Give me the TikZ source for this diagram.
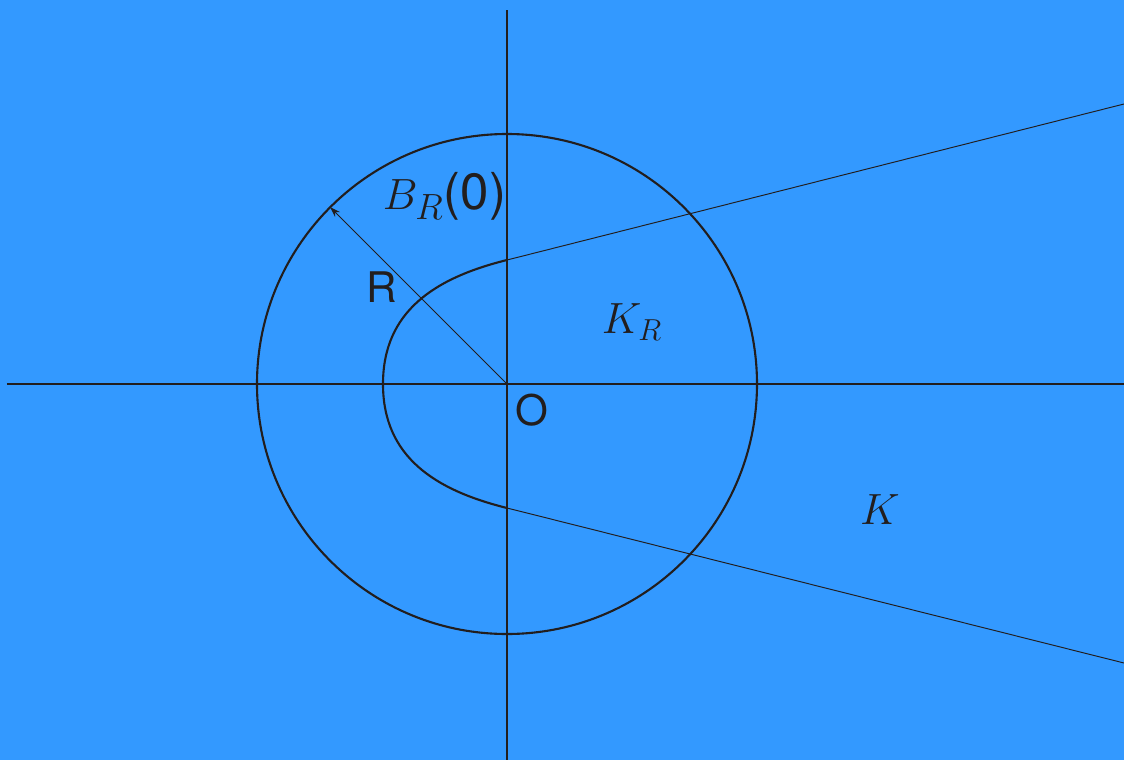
\documentclass[tikz,border=0pt]{standalone}
\usepackage{amsmath,amssymb}
\usepackage{fontspec}
\setsansfont{TeX Gyre Heros}
\usetikzlibrary{arrows.meta,positioning,calc}
\definecolor{bgblue}{RGB}{51,153,255}
\definecolor{inkdark}{RGB}{34,30,30}

\begin{document}
\begin{tikzpicture}[
    axis/.style={inkdark, line width=1.1pt},
    bound/.style={inkdark, line width=1.2pt},
    ray/.style={inkdark, line width=0.55pt},
    lbl/.style={inkdark, font=\fontsize{24}{28}\selectfont, inner sep=0pt}
  ]
    % background (fixes the margins)
    \fill[bgblue] (-10.14,-7.52) rectangle (12.34,7.68);
    \useasboundingbox (-10.14,-7.52) rectangle (12.34,7.68);

    % axes
    \coordinate (O) at (0,0);
    \draw[axis] (-10.0,0) -- (12.34,0);
    \draw[axis] (0,7.48) -- (0,-7.52);

    % ball B_R(0)
    \draw[bound] (O) circle (5);

    % the set K: rounded nose plus two rays
    \coordinate (top) at (0,2.48);
    \coordinate (bot) at (0,-2.48);
    \draw[bound] (top) .. controls (-1.45,2.12) and (-2.48,1.45) .. (-2.48,0)
                       .. controls (-2.48,-1.45) and (-1.45,-2.12) .. (bot);
    \draw[ray] (top) -- (12.34,5.6);
    \draw[ray] (bot) -- (12.34,-5.58);

    % radius arrow
    \coordinate (rim) at (135:5);
    \draw[ray, -{Stealth[length=6pt,width=4pt]}] (O) -- (rim);

    % labels
    \node[lbl, font=\fontsize{29}{32}\selectfont] (ball) at (-1.25,3.76) {$B_R$\textsf{(0)}};
    \node[lbl] (rad) at (-2.5,1.94) {\textsf{R}};
    \node[lbl] (kr) at (2.5,1.24) {$K_R$};
    \node[lbl] (kk) at (7.46,-2.52) {$K$};
    \node[lbl] (orig) at (0.5,-0.52) {\textsf{O}};
  \end{tikzpicture}
\end{document}
